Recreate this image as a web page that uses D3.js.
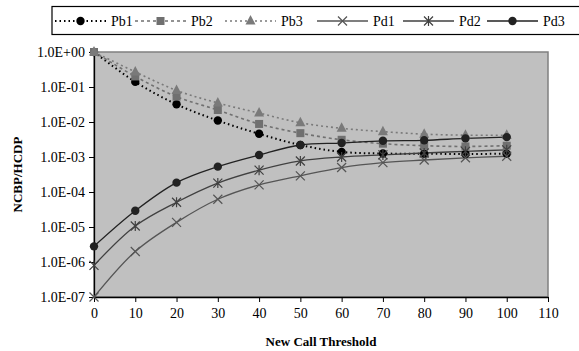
<!DOCTYPE html>
<html><head><meta charset="utf-8">
<script src="https://cdn.jsdelivr.net/npm/d3@7"></script>
<style>body{margin:0;background:#fff}svg{display:block}svg text{font-family:"Liberation Serif","DejaVu Serif",serif}</style>
</head><body>
<script>
const xValues = [0,10,20,30,40,50,60,70,80,90,100];
const xTicks = [0,10,20,30,40,50,60,70,80,90,100,110];
const yTicks = [1,1e-1,1e-2,1e-3,1e-4,1e-5,1e-6,1e-7];
const seriesNames = ["Pb1","Pb2","Pb3","Pd1","Pd2","Pd3"];
const pb1 = [1.0,0.14,0.032,0.011,0.0046,0.0022,0.0014,0.00126,0.00124,0.00122,0.00124];
const pb2 = [1.0,0.2,0.053,0.022,0.0088,0.0048,0.0031,0.0024,0.0021,0.002,0.0021];
const pb3 = [1.0,0.27,0.08,0.035,0.018,0.0095,0.0066,0.0053,0.0045,0.0042,0.0042];
const pd1 = [1e-7,2.0e-6,1.36e-5,6.2e-5,1.6e-4,2.9e-4,5.0e-4,6.9e-4,8.2e-4,9.5e-4,1.05e-3];
const pd2 = [8e-7,1.07e-5,5.1e-5,1.8e-4,4.2e-4,7.7e-4,1.0e-3,1.15e-3,1.3e-3,1.45e-3,1.6e-3];
const pd3 = [2.8e-6,2.9e-5,1.85e-4,5.3e-4,1.14e-3,2.2e-3,2.5e-3,2.9e-3,3.0e-3,3.4e-3,3.7e-3];

const W=579,H=351;
const svg=d3.select("body").append("svg").attr("width",W).attr("height",H);
const m={l:94,r:548,t:52,b:297};
const x=d3.scaleLinear().domain([0,110]).range([m.l,m.r]);
const y=d3.scaleLog().domain([1e-7,1]).range([m.b,m.t]);
const font='"Liberation Serif","DejaVu Serif",serif';

svg.append("rect").attr("x",m.l).attr("y",m.t).attr("width",m.r-m.l).attr("height",m.b-m.t)
  .attr("fill","#c0c0c0").attr("stroke","#808080").attr("stroke-width",1.5);

const fmt=d=>{const e=Math.round(Math.log10(d));return "1.0E"+(e>=0?"+":"-")+String(Math.abs(e)).padStart(2,"0");};
const yAxis=svg.append("g").attr("transform",`translate(${m.l},0)`)
  .call(d3.axisLeft(y).tickValues(yTicks).tickFormat(fmt).tickSize(5).tickSizeOuter(0));
const xAxis=svg.append("g").attr("transform",`translate(0,${m.b})`)
  .call(d3.axisBottom(x).tickValues(xTicks).tickSize(5).tickSizeOuter(0));
[xAxis,yAxis].forEach(g=>{
  g.attr("font-family",null).attr("font-size",null);
  g.selectAll("path").attr("stroke","#000").attr("stroke-width",1.3);
  g.selectAll("line").attr("stroke","#000");
  g.selectAll("text").style("font-family",font).style("font-size","14px").attr("fill","#000");
});
yAxis.selectAll("text").attr("x",-9);
xAxis.selectAll("text").attr("y",11);

svg.append("text").attr("x",(m.l+m.r)/2).attr("y",346).attr("text-anchor","middle")
  .style("font-family",font).style("font-weight","bold").style("font-size","13px").text("New Call Threshold");
svg.append("text").attr("transform",`translate(22,${(m.t+m.b)/2}) rotate(-90)`).attr("text-anchor","middle")
  .style("font-family",font).style("font-weight","bold").style("font-size","13px").text("NCBP/HCDP");

const styles=[
 {vals:pb1,color:"#000000",dash:"1.5,3",width:2,marker:"circle"},
 {vals:pb2,color:"#707070",dash:"3,3",width:1.6,marker:"square"},
 {vals:pb3,color:"#7a7a7a",dash:"2,3",width:1.6,marker:"triangle"},
 {vals:pd1,color:"#555555",dash:null,width:1.3,marker:"x"},
 {vals:pd2,color:"#404040",dash:null,width:1.3,marker:"star"},
 {vals:pd3,color:"#222222",dash:null,width:1.3,marker:"circle"}
];
function drawMarker(g,type,cx,cy,color){
  if(type==="circle") g.append("circle").attr("cx",cx).attr("cy",cy).attr("r",4.2).attr("fill",color);
  else if(type==="square") g.append("rect").attr("x",cx-4).attr("y",cy-4).attr("width",8).attr("height",8).attr("fill",color);
  else if(type==="triangle") g.append("path").attr("d",`M${cx},${cy-6}L${cx+5},${cy+3.5}L${cx-5},${cy+3.5}Z`).attr("fill",color);
  else if(type==="x") g.append("path").attr("d",`M${cx-4.5},${cy-4.5}L${cx+4.5},${cy+4.5}M${cx-4.5},${cy+4.5}L${cx+4.5},${cy-4.5}`).attr("stroke",color).attr("stroke-width",1.2);
  else if(type==="star") g.append("path").attr("d",`M${cx-4.5},${cy-4.5}L${cx+4.5},${cy+4.5}M${cx-4.5},${cy+4.5}L${cx+4.5},${cy-4.5}M${cx},${cy-5}L${cx},${cy+5}`).attr("stroke",color).attr("stroke-width",1.2);
}
const line=d3.line().x((d,i)=>x(xValues[i])).y(d=>y(d)).curve(d3.curveCatmullRom.alpha(0.5));
const plot=svg.append("g");
styles.forEach(s=>{
  plot.append("path").attr("d",line(s.vals)).attr("fill","none").attr("stroke",s.color)
    .attr("stroke-width",s.width).attr("stroke-dasharray",s.dash);
});
styles.forEach(s=>{
  const g=plot.append("g");
  s.vals.forEach((v,i)=>drawMarker(g,s.marker,x(xValues[i]),y(v),s.color));
});

// legend
const lg=svg.append("g");
lg.append("rect").attr("x",52).attr("y",6.5).attr("width",540).attr("height",28).attr("fill","#fff").attr("stroke","#000").attr("stroke-width",1.2);
const legX=[55,135,225,317,403,487];
styles.forEach((s,i)=>{
  const x0=legX[i], yy=21, len=51;
  lg.append("line").attr("x1",x0).attr("x2",x0+len).attr("y1",yy).attr("y2",yy).attr("stroke",s.color)
    .attr("stroke-width",s.width).attr("stroke-dasharray",s.dash);
  drawMarker(lg,s.marker,x0+len/2,yy,s.color);
  lg.append("text").attr("x",x0+len+5).attr("y",yy+5).style("font-family",font).style("font-size","14px").text(seriesNames[i]);
});
</script>
</body></html>
